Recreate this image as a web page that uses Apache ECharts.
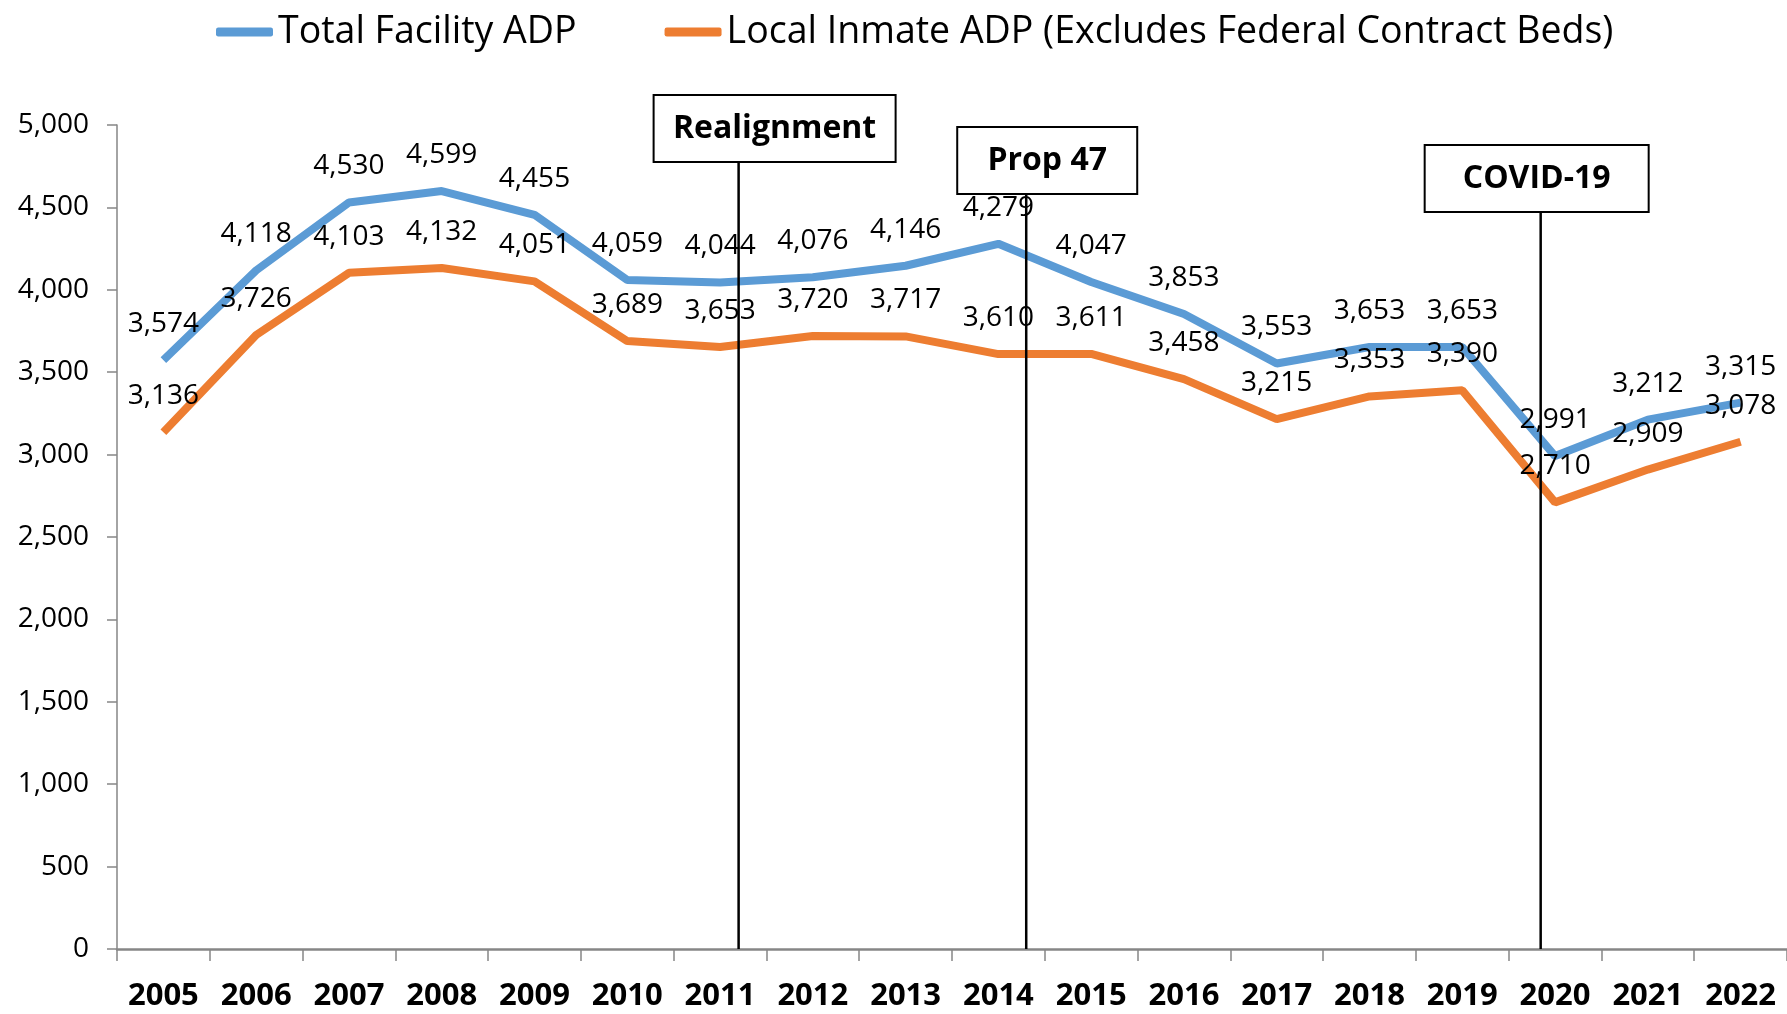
<!DOCTYPE html>
<html>
<head>
<meta charset="utf-8">
<script src="https://cdn.jsdelivr.net/npm/echarts@6/dist/echarts.min.js"></script>
<style>
  html, body { margin: 0; padding: 0; background: #fff; }
  #chart { width: 1787px; height: 1014px; }
</style>
</head>
<body>
<div id="chart"></div>
<script>
// data
const years = ['2005', '2006', '2007', '2008', '2009', '2010', '2011', '2012', '2013',
  '2014', '2015', '2016', '2017', '2018', '2019', '2020', '2021', '2022'];
const totalADP = [3574, 4118, 4530, 4599, 4455, 4059, 4044, 4076, 4146,
  4279, 4047, 3853, 3553, 3653, 3653, 2991, 3212, 3315];
const localADP = [3136, 3726, 4103, 4132, 4051, 3689, 3653, 3720, 3717,
  3610, 3611, 3458, 3215, 3353, 3390, 2710, 2909, 3078];

// event markers: where the vertical line sits (in years) and how high it goes
const eventNames = ['Realignment', 'Prop 47', 'COVID-19'];
const eventYear = [2011.2, 2014.3, 2019.845];
const eventTop = [4775, 4581, 4472];

const font = '"Open Sans", "Noto Sans", sans-serif';
const blue = '#5B9BD5';
const orange = '#ED7D31';

const chart = echarts.init(document.getElementById('chart'));

const dataLabel = {
  show: true,
  position: 'top',
  distance: 22,
  color: '#000',
  fontSize: 28,
  fontFamily: font,
  formatter: p => p.value.toLocaleString('en-US')
};

const eventSeries = eventYear.map((x, i) => ({
  name: eventNames[i],
  type: 'line',
  xAxisIndex: 1,
  data: [[x, 0], [x, eventTop[i]]],
  symbol: 'none',
  silent: true,
  z: 5,
  lineStyle: { color: '#000', width: 2.5 }
}));

chart.setOption({
  animation: false,
  legend: {
    data: ['Total Facility ADP', 'Local Inmate ADP (Excludes Federal Contract Beds)'],
    left: 211,
    top: 8,
    icon: 'roundRect',
    itemWidth: 57,
    itemHeight: 9,
    itemGap: 88,
    textStyle: { fontSize: 37.5, fontFamily: font, color: '#000' }
  },
  grid: { left: 117, right: 0, top: 125, bottom: 65, containLabel: false },
  xAxis: [
    {
      type: 'category',
      data: years,
      boundaryGap: true,
      axisLine: { lineStyle: { color: '#868686', width: 2.5 } },
      axisTick: { show: true, interval: 0, length: 12, lineStyle: { color: '#868686', width: 1.5 } },
      axisLabel: {
        interval: 0,
        margin: 32,
        color: '#000',
        fontSize: 31,
        fontWeight: 'bold',
        fontFamily: font
      }
    },
    { type: 'value', min: 2004.5, max: 2022.5, show: false }
  ],
  yAxis: {
    type: 'value',
    min: 0,
    max: 5000,
    interval: 500,
    axisLine: { show: true, lineStyle: { color: '#868686', width: 1.5 } },
    axisTick: { show: true, length: 10, lineStyle: { color: '#868686', width: 1.5 } },
    splitLine: { show: false },
    axisLabel: {
      margin: 28,
      color: '#000',
      fontSize: 28,
      fontFamily: font,
      formatter: v => v.toLocaleString('en-US')
    }
  },
  series: [
    {
      name: 'Total Facility ADP',
      type: 'line',
      data: totalADP,
      color: blue,
      symbol: 'circle',
      symbolSize: 0.1,
      lineStyle: { width: 8, color: blue },
      label: dataLabel
    },
    {
      name: 'Local Inmate ADP (Excludes Federal Contract Beds)',
      type: 'line',
      data: localADP,
      color: orange,
      symbol: 'circle',
      symbolSize: 0.1,
      lineStyle: { width: 8, color: orange },
      label: dataLabel
    },
    ...eventSeries
  ]
});

// boxes sit on top of each event line
const boxes = [
  { dx: 36, w: 242, h: 67 },
  { dx: 21, w: 180, h: 67 },
  { dx: -4, w: 224, h: 67 }
];
const graphics = [];
eventNames.forEach((name, i) => {
  const p = chart.convertToPixel({ seriesIndex: 2 + i }, [eventYear[i], eventTop[i]]);
  const cx = p[0] + boxes[i].dx;
  graphics.push({
    type: 'rect',
    shape: { x: cx - boxes[i].w / 2, y: p[1] - boxes[i].h, width: boxes[i].w, height: boxes[i].h },
    style: { fill: '#fff', stroke: '#000', lineWidth: 2 },
    z: 10
  });
  graphics.push({
    type: 'text',
    style: {
      text: name,
      x: cx,
      y: p[1] - boxes[i].h / 2,
      align: 'center',
      verticalAlign: 'middle',
      font: 'bold 32px ' + font,
      fill: '#000'
    },
    z: 11
  });
});
chart.setOption({ graphic: graphics });
</script>
</body>
</html>
